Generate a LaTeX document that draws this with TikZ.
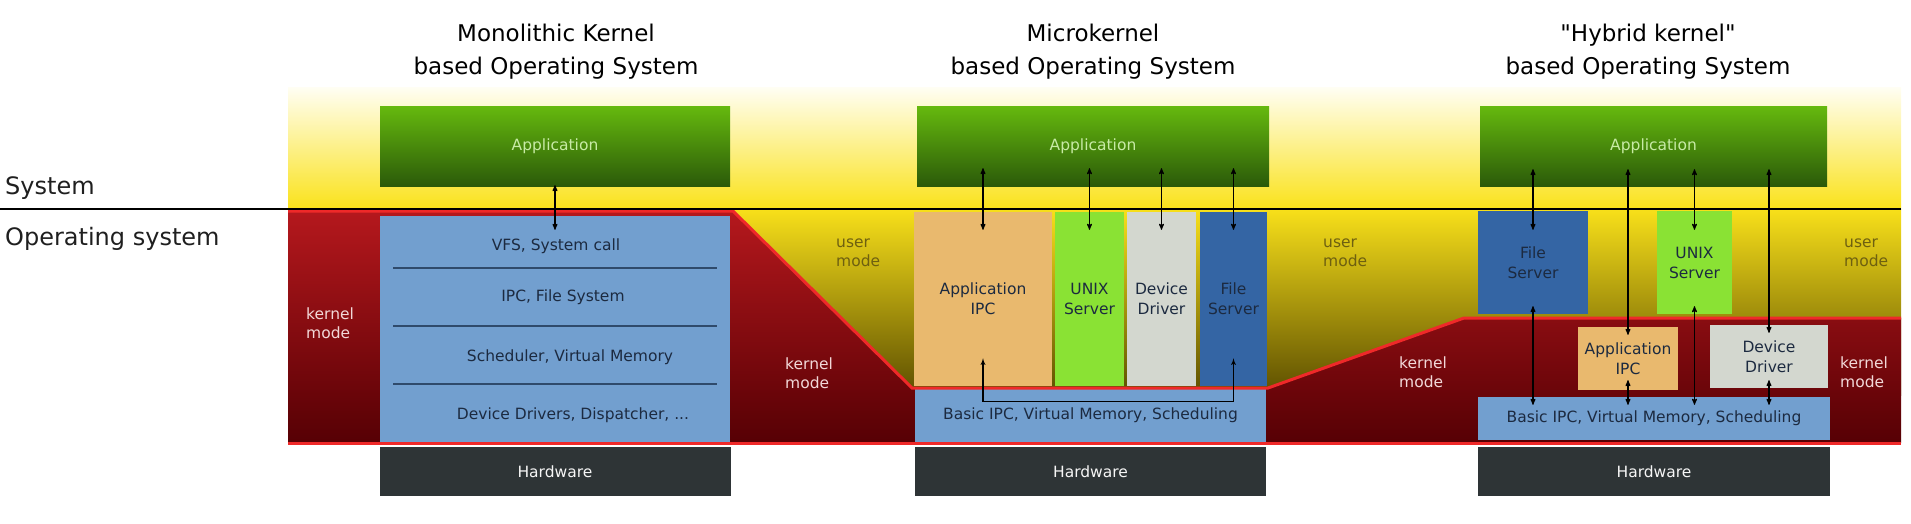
\documentclass[tikz,border=0pt]{standalone}
\usepackage{fontspec}
\setmainfont{DejaVu Sans}
\newfontfamily\plainquotes{DejaVu Sans}[Ligatures=TeXOff]
\usetikzlibrary{arrows,positioning,calc}

\definecolor{appgreen}{HTML}{65B80E}
\definecolor{appdark}{HTML}{2B5A09}
\definecolor{apptext}{HTML}{C8EBA6}
\definecolor{skyblue}{HTML}{729FCF}
\definecolor{navy}{HTML}{1C2A40}
\definecolor{seplinecol}{HTML}{2F4A6B}
\definecolor{hwgray}{HTML}{2E3436}
\definecolor{ipcorange}{HTML}{E9B96E}
\definecolor{unixgreen}{HTML}{8AE234}
\definecolor{devgray}{HTML}{D3D7CF}
\definecolor{fsblue}{HTML}{3465A4}
\definecolor{kerntop}{HTML}{B5181D}
\definecolor{kernbot}{HTML}{560004}
\definecolor{kernline}{HTML}{EF2929}
\definecolor{skytop}{HTML}{FFFEF2}
\definecolor{skymid}{HTML}{FDF08A}
\definecolor{skybot}{HTML}{FAE21A}
\definecolor{usertop}{HTML}{F8E01A}
\definecolor{userbot}{HTML}{5C4E00}
\definecolor{usertext}{HTML}{6E6010}
\definecolor{kerntext}{HTML}{F2D8D8}

\begin{document}
\begin{tikzpicture}[x=1pt, y=-1pt, >=stealth',
        box/.style={rectangle,inner sep=0pt,align=center,text=navy,font=\fontsize{15.5}{20}\selectfont},
        app/.style={box,top color=appgreen,bottom color=appdark,text=apptext,minimum width=350pt,minimum height=79pt},
        hw/.style={box,fill=hwgray,text=white!93!gray,minimum width=351pt,minimum height=49pt},
        title/.style={align=center,inner sep=0pt,font=\fontsize{23}{33}\selectfont},
        side/.style={anchor=west,inner sep=0pt,text=black!88,font=\fontsize{24}{28}\selectfont},
        modelabel/.style={anchor=west,align=left,inner sep=0pt,font=\fontsize{15.5}{19}\selectfont},
        userlbl/.style={modelabel,text=usertext},
        kernlbl/.style={modelabel,text=kerntext},
        sepline/.style={seplinecol,line width=2pt},
        link/.style={<->,line width=1.1pt},
        bracket/.style={<->,>=latex',line width=1.3pt}]
        \useasboundingbox (0,0) rectangle (1911,524);

        % user / kernel backgrounds
        \shade[top color=skytop,middle color=skymid,bottom color=skybot] (288,88) rectangle (1901,209);
        \shade[top color=usertop,bottom color=userbot] (288,209) rectangle (1901,395);
        \shade[top color=kerntop,bottom color=kernbot] (288,211) -- (733,211) -- (912,388) -- (1268,388)
            -- (1464,318) -- (1901,318) -- (1901,443) -- (288,443) -- cycle;

        % titles
        \node[title] (t1) at (556,52) {Monolithic Kernel\\based Operating System};
        \node[title] (t2) at (1093,52) {Microkernel\\based Operating System};
        \node[title] (t3) at (1648,52) {{\plainquotes\char"22}Hybrid kernel{\plainquotes\char"22}\\based Operating System};
        \node[side] (sys) at (5,188) {System};
        \node[side] (os) at (5,239) {Operating system};

        % monolithic kernel
        \node[app] (app1) at (555,146.5) {Application};
        \node[box,fill=skyblue,minimum width=350pt,minimum height=226pt] (mono) at (555,329) {};
        \node[box] (vfs) at (556,246) {VFS, System call};
        \node[box] (ipc1) at (563,297) {IPC, File System};
        \node[box] (sched) at (570,357) {Scheduler, Virtual Memory};
        \node[box] (drv) at (573,415) {Device Drivers, Dispatcher, ...};
        \draw[sepline] (393,268) -- (717,268);
        \draw[sepline] (393,326) -- (717,326);
        \draw[sepline] (393,384) -- (717,384);
        \node[hw] (hw1) at (555,471.5) {Hardware};
        \node[kernlbl] (km1) at (306,323.5) {kernel\\mode};

        % microkernel
        \node[app,minimum width=352pt] (app2) at (1093,146.5) {Application};
        \node[box,fill=ipcorange,minimum width=138pt,minimum height=174pt] (ipc2) at (983,299) {Application\\IPC};
        \node[box,fill=unixgreen,minimum width=69pt,minimum height=174pt] (unix2) at (1089.5,299) {UNIX\\Server};
        \node[box,fill=devgray,minimum width=69pt,minimum height=174pt] (dev2) at (1161.5,299) {Device\\Driver};
        \node[box,fill=fsblue,minimum width=67pt,minimum height=174pt] (fs2) at (1233.5,299) {File\\Server};
        \node[box,fill=skyblue,minimum width=351pt,minimum height=54pt] (bas2) at (1090.5,415) {Basic IPC, Virtual Memory, Scheduling};
        \node[hw] (hw2) at (1090.5,471.5) {Hardware};
        \node[userlbl] (um2) at (836,252.5) {user\\mode};
        \node[kernlbl] (km2) at (785,373) {kernel\\mode};

        % hybrid kernel
        \node[app,minimum width=347pt] (app3) at (1653.5,146.5) {Application};
        \node[box,fill=fsblue,minimum width=110pt,minimum height=103pt] (fs3) at (1533,262.5) {File\\Server};
        \node[box,fill=unixgreen,minimum width=75pt,minimum height=103pt] (unix3) at (1694.5,262.5) {UNIX\\Server};
        \node[box,fill=ipcorange,minimum width=100pt,minimum height=63pt] (ipc3) at (1628,358.5) {Application\\IPC};
        \node[box,fill=devgray,minimum width=118pt,minimum height=63pt] (dev3) at (1769,356.5) {Device\\Driver};
        \node[box,fill=skyblue,minimum width=352pt,minimum height=43pt] (bas3) at (1654,418.5) {Basic IPC, Virtual Memory, Scheduling};
        \node[hw,minimum width=352pt] (hw3) at (1654,471.5) {Hardware};
        \node[userlbl] (um3) at (1323,252.5) {user\\mode};
        \node[kernlbl] (km3) at (1399,372.5) {kernel\\mode};
        \node[userlbl] (um4) at (1844,252.5) {user\\mode};
        \node[kernlbl] (km4) at (1840,372.5) {kernel\\mode};

        % borders
        \draw[kernline,line width=3pt] (288,211) -- (733,211) -- (912,388) -- (1268,388) -- (1464,318) -- (1901,318);
        \draw[kernline,line width=3pt] (288,443) -- (1901,443);
        \draw[black,line width=2.6pt] (0,209) -- (1901,209);

        % calls
        \draw[link,shorten <=-1pt,shorten >=-14pt] (app1.south) -- (mono.north);
        \draw[link,shorten <=-18pt,shorten >=-18pt] (app2.south -| ipc2.north) -- (ipc2.north);
        \draw[link,shorten <=-18pt,shorten >=-18pt] (app2.south -| unix2.north) -- (unix2.north);
        \draw[link,shorten <=-18pt,shorten >=-18pt] (app2.south -| dev2.north) -- (dev2.north);
        \draw[link,shorten <=-18pt,shorten >=-18pt] (app2.south -| fs2.north) -- (fs2.north);
        \draw[bracket] ([yshift=28pt]ipc2.south) |- ([yshift=-14pt]bas2.north -| fs2.south) -- ([yshift=28pt]fs2.south);
        \draw[link,shorten <=-17pt,shorten >=-19pt] (app3.south -| fs3.north) -- (fs3.north);
        \draw[link,shorten <=-8pt,shorten >=-8pt] (fs3.south) -- (bas3.north -| fs3.south);
        \draw[link,shorten <=-17pt,shorten >=-8pt] (app3.south -| ipc3.north) -- (ipc3.north);
        \draw[link,shorten <=-10pt,shorten >=-8pt] (ipc3.south) -- (bas3.north -| ipc3.south);
        \draw[link,shorten <=-17pt,shorten >=-19pt] (app3.south -| unix3.north) -- (unix3.north);
        \draw[link,shorten <=-8pt,shorten >=-8pt] (unix3.south) -- (bas3.north -| unix3.south);
        \draw[link,shorten <=-17pt,shorten >=-8pt] (app3.south -| dev3.north) -- (dev3.north);
        \draw[link,shorten <=-8pt,shorten >=-8pt] (dev3.south) -- (bas3.north -| dev3.south);
      \end{tikzpicture}
\end{document}
